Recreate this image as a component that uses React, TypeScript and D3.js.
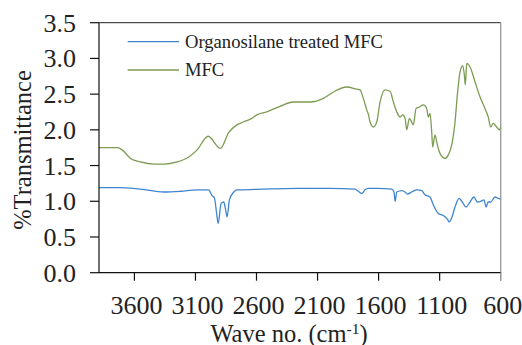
import React from "react";
import * as d3 from "d3";

// Wavenumber (cm-1) / %Transmittance readings
const mfcWave = [3890, 3741, 3700, 3632, 3551, 3441, 3359, 3250, 3154, 3086, 2996, 2896, 2828, 2761, 2707, 2639, 2598, 2516, 2407, 2298, 2161, 2052, 1970, 1861, 1779, 1752, 1725, 1697, 1684, 1670, 1643, 1615, 1588, 1547, 1506, 1479, 1451, 1424, 1402, 1383, 1370, 1348, 1329, 1316, 1293, 1266, 1234, 1206, 1193, 1179, 1165, 1157, 1138, 1119, 1097, 1056, 1029, 1001, 974, 955, 933, 911, 898, 890, 878, 851, 810, 769, 729, 702, 682, 661, 633, 611, 600];
const mfcT = [1.75, 1.75, 1.72, 1.6, 1.55, 1.52, 1.52, 1.55, 1.62, 1.72, 1.91, 1.74, 1.96, 2.07, 2.11, 2.16, 2.21, 2.25, 2.33, 2.39, 2.39, 2.44, 2.53, 2.6, 2.57, 2.56, 2.44, 2.28, 2.22, 2.11, 2.04, 2.11, 2.39, 2.56, 2.54, 2.39, 2.25, 2.18, 2.21, 2.16, 2.0, 2.16, 2.11, 2.07, 2.3, 2.32, 2.35, 2.3, 2.18, 2.23, 1.97, 1.76, 1.93, 1.79, 1.67, 1.6, 1.65, 1.79, 2.11, 2.49, 2.81, 2.9, 2.77, 2.63, 2.93, 2.88, 2.67, 2.46, 2.3, 2.18, 2.04, 2.09, 2.04, 2.0, 2.04];

const silWave = [3890, 3741, 3551, 3359, 3223, 3086, 2991, 2964, 2945, 2928, 2914, 2890, 2868, 2855, 2841, 2822, 2786, 2761, 2734, 2544, 2270, 1998, 1793, 1766, 1738, 1711, 1684, 1615, 1492, 1474, 1465, 1451, 1411, 1383, 1365, 1329, 1288, 1247, 1220, 1179, 1152, 1111, 1070, 1037, 1021, 1001, 974, 941, 919, 884, 851, 819, 792, 764, 737, 720, 702, 682, 647, 620, 600];
const silT = [1.19, 1.19, 1.17, 1.13, 1.14, 1.16, 1.16, 1.08, 1.05, 0.85, 0.69, 0.97, 0.99, 0.9, 0.78, 1.02, 1.13, 1.16, 1.16, 1.17, 1.18, 1.18, 1.17, 1.14, 1.11, 1.16, 1.18, 1.18, 1.17, 1.13, 1.0, 1.13, 1.15, 1.13, 1.1, 1.13, 1.16, 1.15, 1.09, 1.06, 0.95, 0.83, 0.8, 0.75, 0.71, 0.77, 0.92, 1.04, 1.0, 0.92, 0.99, 1.06, 0.99, 1.0, 1.02, 0.92, 0.99, 0.99, 1.06, 1.04, 1.03];

const xTicks = [3600, 3100, 2600, 2100, 1600, 1100, 600];
const yTicks = [0, 0.5, 1, 1.5, 2, 2.5, 3, 3.5];
const seriesNames = ["Organosilane treated MFC", "MFC"];

const FONT = "'Liberation Serif', 'Times New Roman', serif";
const BLUE = "#3f86cf";
const GREEN = "#7b9c52";

export default function App() {
  const left = 99, right = 500.7, top = 22.7, bottom = 272.7;
  const x = d3.scaleLinear().domain([3890, 600]).range([left, right]);
  const y = d3.scaleLinear().domain([0, 3.5]).range([bottom, top]);

  const line = d3
    .line<[number, number]>()
    .x((d) => x(d[0]))
    .y((d) => y(d[1]))
    .curve(d3.curveMonotoneX);

  const mfcPts = mfcWave.map((w, i) => [w, mfcT[i]] as [number, number]);
  const silPts = silWave.map((w, i) => [w, silT[i]] as [number, number]);

  return (
    <svg
      width={522}
      height={345}
      style={{ position: "absolute", left: 0, top: 0, background: "#fff" }}
      fontFamily={FONT}
    >
      <rect x={0} y={0} width={522} height={345} fill="#fff" />
      {/* plot frame */}
      <line x1={left} x2={right} y1={top} y2={top} stroke="#222" strokeWidth={1} />
      <line x1={right} x2={right} y1={top} y2={bottom + 8} stroke="#999" strokeWidth={1.3} />

      {/* series */}
      <path d={line(mfcPts) || ""} fill="none" stroke={GREEN} strokeWidth={1.3} />
      <path d={line(silPts) || ""} fill="none" stroke={BLUE} strokeWidth={1.3} />

      {/* y axis */}
      <line x1={left} x2={left} y1={top} y2={bottom} stroke="#111" strokeWidth={1.2} />
      {yTicks.map((t) => (
        <g key={t}>
          <line x1={left - 9} x2={left} y1={y(t)} y2={y(t)} stroke="#111" strokeWidth={1.2} />
          <text x={76} y={y(t) + 9} textAnchor="end" fontSize={26} fill="#222">
            {t.toFixed(1)}
          </text>
        </g>
      ))}

      {/* x axis */}
      <line x1={left} x2={right} y1={bottom} y2={bottom} stroke="#111" strokeWidth={1.2} />
      {xTicks.map((t) => (
        <g key={t}>
          <line x1={x(t)} x2={x(t)} y1={bottom} y2={bottom + 8} stroke={t === 600 ? "#999" : "#111"} strokeWidth={1.2} />
          <text x={x(t) + 2} y={313.5} textAnchor="middle" fontSize={26} fill="#222">
            {t}
          </text>
        </g>
      ))}

      {/* axis titles */}
      <text
        transform={`translate(31, 150) rotate(-90)`}
        textAnchor="middle"
        fontSize={24.5}
        fill="#222"
      >
        %Transmittance
      </text>
      <text x={289} y={341.5} textAnchor="middle" fontSize={24.5} fill="#222">
        Wave no. (cm
        <tspan fontSize={15.5} dy={-8}>-1</tspan>
        <tspan dy={8}>)</tspan>
      </text>

      {/* legend */}
      <line x1={127.7} x2={179} y1={41.7} y2={41.7} stroke={BLUE} strokeWidth={1.3} />
      <text x={185} y={47.5} fontSize={18.6} fill="#222">{seriesNames[0]}</text>
      <line x1={127.7} x2={179} y1={70} y2={70} stroke={GREEN} strokeWidth={1.3} />
      <text x={185} y={76} fontSize={18.6} fill="#222">{seriesNames[1]}</text>
    </svg>
  );
}
